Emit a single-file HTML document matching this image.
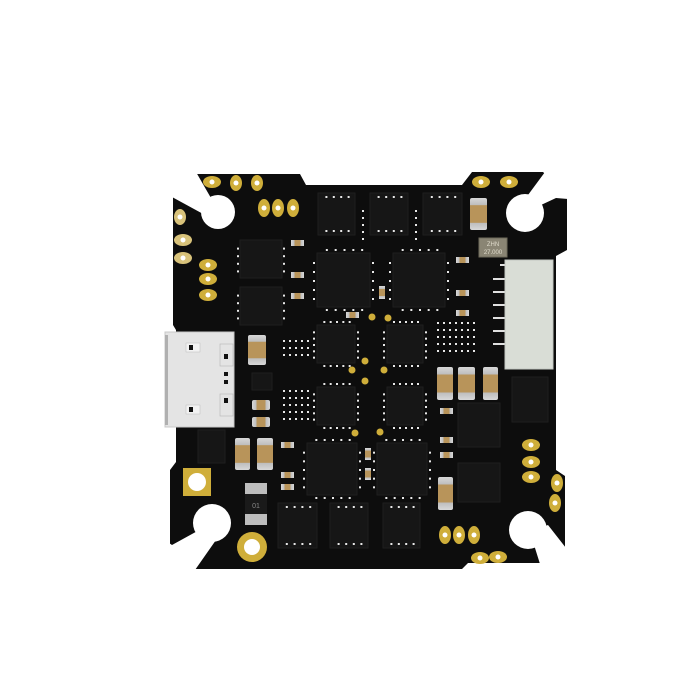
<!DOCTYPE html>
<html><head><meta charset="utf-8"><style>
html,body{margin:0;padding:0;background:#fff;width:700px;height:700px;overflow:hidden}
</style></head><body>
<svg id="s" width="700" height="700" viewBox="0 0 700 700" xmlns="http://www.w3.org/2000/svg" font-family="Liberation Sans, sans-serif">
<defs>
<linearGradient id="cap" x1="0" y1="0" x2="0" y2="1">
<stop offset="0" stop-color="#d8d8d8"/><stop offset="0.22" stop-color="#bdbdbd"/><stop offset="0.23" stop-color="#b8945a"/><stop offset="0.77" stop-color="#b8945a"/><stop offset="0.78" stop-color="#bdbdbd"/><stop offset="1" stop-color="#d8d8d8"/></linearGradient>
<linearGradient id="caph" x1="0" y1="0" x2="1" y2="0">
<stop offset="0" stop-color="#d8d8d8"/><stop offset="0.25" stop-color="#bdbdbd"/><stop offset="0.26" stop-color="#b8945a"/><stop offset="0.74" stop-color="#b8945a"/><stop offset="0.75" stop-color="#bdbdbd"/><stop offset="1" stop-color="#d8d8d8"/></linearGradient>
</defs>
<!-- board -->
<path fill="#0d0d0d" d="M193,174 L300,174 L306,185 L462,185 L472,172 L543,172 L567,195 L567,250 L556,256 L556,470 L565,476 L565,548 L542,563 L468,563 L462,569 L195,569 L170,545 L170,470 L176,462 L176,330 L173,325 L173,196 Z"/>
<!-- corner wedges + holes -->
<g fill="#fff">
<polygon points="150,160 196,172 215,205 205,215 172,197"/>
<circle cx="218" cy="212" r="17"/>
<polygon points="580,160 580,200 556,198 526,212 528,195 545,172"/>
<circle cx="525" cy="213" r="19"/>
<polygon points="580,560 580,580 545,580 530,532 548,525 566,548"/>
<circle cx="528" cy="530" r="19"/>
<polygon points="150,580 150,530 172,545 212,523 216,540 195,570"/>
<circle cx="212" cy="523" r="19"/>
</g>
<g id="chips" fill="#161616" stroke="#1e1e1e" stroke-width="1">
<rect x="318" y="193" width="37" height="42"/><rect x="370" y="193" width="38" height="42"/><rect x="423" y="193" width="39" height="42"/>
<rect x="240" y="240" width="42" height="38"/><rect x="240" y="287" width="42" height="38"/>
<rect x="317" y="253" width="53" height="54"/><rect x="393" y="253" width="52" height="54"/>
<rect x="307" y="443" width="50" height="52"/><rect x="377" y="443" width="50" height="52"/>
<rect x="317" y="325" width="38" height="38"/><rect x="387" y="325" width="36" height="38"/>
<rect x="317" y="387" width="38" height="38"/><rect x="387" y="387" width="36" height="38"/>
<rect x="512" y="377" width="36" height="45"/><rect x="458" y="403" width="42" height="44"/><rect x="458" y="463" width="42" height="39"/>
<rect x="278" y="503" width="39" height="45"/><rect x="330" y="503" width="38" height="45"/><rect x="383" y="503" width="37" height="45"/>
<rect x="198" y="430" width="27" height="33"/><rect x="252" y="373" width="20" height="17"/>
</g>
<g id="dots" fill="#e8e8e8"></g>
<!-- USB -->
<rect x="165" y="332" width="69" height="95" fill="#e4e4e4" stroke="#c8c8c8"/>
<rect x="165" y="335" width="3" height="90" fill="#b0b0b0"/>
<rect x="186" y="343" width="14" height="9" fill="#f2f2f2" stroke="#bbb" stroke-width=".5"/><rect x="189" y="345" width="4" height="5" fill="#111"/>
<rect x="186" y="405" width="14" height="9" fill="#f2f2f2" stroke="#bbb" stroke-width=".5"/><rect x="189" y="407" width="4" height="5" fill="#111"/>
<rect x="224" y="354" width="4" height="5" fill="#111"/><rect x="224" y="372" width="4" height="4" fill="#111"/><rect x="224" y="380" width="4" height="4" fill="#111"/><rect x="224" y="398" width="4" height="5" fill="#111"/>
<rect x="220" y="344" width="13" height="22" fill="none" stroke="#bbb" stroke-width=".7"/><rect x="220" y="394" width="13" height="22" fill="none" stroke="#bbb" stroke-width=".7"/>
<!-- side connector -->
<g fill="#e0e0e0"><rect x="493" y="278" width="14" height="2"/><rect x="493" y="291" width="14" height="2"/><rect x="493" y="304" width="14" height="2"/><rect x="493" y="317" width="14" height="2"/><rect x="493" y="330" width="14" height="2"/><rect x="493" y="343" width="14" height="2"/><rect x="500" y="264" width="7" height="2"/></g>
<rect x="505" y="260" width="48" height="109" fill="#d9ddd6" stroke="#c4c8c1"/>
<!-- crystal -->
<rect x="479" y="238" width="28" height="19" fill="#8a8574" stroke="#6f6a5c"/>
<text x="493" y="246" font-size="6" fill="#e0dccc" text-anchor="middle">ZHN</text>
<text x="493" y="254" font-size="6" fill="#e0dccc" text-anchor="middle">27.000</text>
<!-- caps vertical -->
<g fill="url(#cap)">
<rect x="470" y="198" width="17" height="32" rx="2"/><rect x="248" y="335" width="18" height="30" rx="2"/>
<rect x="437" y="367" width="16" height="33" rx="2"/><rect x="458" y="367" width="17" height="33" rx="2"/><rect x="483" y="367" width="15" height="33" rx="2"/>
<rect x="235" y="438" width="15" height="32" rx="2"/><rect x="257" y="438" width="16" height="32" rx="2"/><rect x="438" y="477" width="15" height="33" rx="2"/>
<rect x="379" y="286" width="6" height="13"/><rect x="365" y="448" width="6" height="12"/><rect x="365" y="468" width="6" height="12"/>
</g>
<g fill="url(#caph)">
<rect x="252" y="400" width="18" height="10" rx="2"/><rect x="252" y="417" width="18" height="10" rx="2"/>
<rect x="291" y="240" width="13" height="6"/><rect x="291" y="272" width="13" height="6"/><rect x="291" y="293" width="13" height="6"/>
<rect x="346" y="312" width="13" height="6"/><rect x="456" y="257" width="13" height="6"/><rect x="456" y="290" width="13" height="6"/><rect x="456" y="310" width="13" height="6"/>
<rect x="440" y="408" width="13" height="6"/><rect x="440" y="437" width="13" height="6"/><rect x="440" y="452" width="13" height="6"/>
<rect x="281" y="442" width="13" height="6"/><rect x="281" y="472" width="13" height="6"/><rect x="281" y="484" width="13" height="6"/>
</g>
<!-- grey resistor -->
<rect x="245" y="483" width="22" height="42" fill="#1a1a1a"/>
<rect x="245" y="483" width="22" height="11" fill="#bdbdbd"/><rect x="245" y="514" width="22" height="11" fill="#bdbdbd"/>
<text x="256" y="508" font-size="7" fill="#888" text-anchor="middle">01</text>
<!-- gold pads -->
<g fill="#cfae3a">
<ellipse cx="212" cy="182" rx="9" ry="6"/><ellipse cx="236" cy="183" rx="6" ry="8"/><ellipse cx="257" cy="183" rx="6" ry="8"/>
<ellipse cx="264" cy="208" rx="6" ry="9"/><ellipse cx="278" cy="208" rx="6" ry="9"/><ellipse cx="293" cy="208" rx="6" ry="9"/>
<ellipse cx="180" cy="217" rx="6" ry="8" fill="#d8c27a"/><ellipse cx="183" cy="240" rx="9" ry="6" fill="#d8c27a"/><ellipse cx="183" cy="258" rx="9" ry="6" fill="#d8c27a"/>
<ellipse cx="208" cy="265" rx="9" ry="6"/><ellipse cx="208" cy="279" rx="9" ry="6"/><ellipse cx="208" cy="295" rx="9" ry="6"/>
<ellipse cx="481" cy="182" rx="9" ry="6"/><ellipse cx="509" cy="182" rx="9" ry="6"/>
<ellipse cx="531" cy="445" rx="9" ry="6"/><ellipse cx="531" cy="462" rx="9" ry="6"/><ellipse cx="531" cy="477" rx="9" ry="6"/>
<ellipse cx="557" cy="483" rx="6" ry="9"/><ellipse cx="555" cy="503" rx="6" ry="9"/>
<ellipse cx="445" cy="535" rx="6" ry="9"/><ellipse cx="459" cy="535" rx="6" ry="9"/><ellipse cx="474" cy="535" rx="6" ry="9"/>
<ellipse cx="480" cy="558" rx="9" ry="6"/><ellipse cx="498" cy="557" rx="9" ry="6"/>
<rect x="183" y="468" width="28" height="28"/><circle cx="252" cy="547" r="15"/>
<circle cx="372" cy="317" r="3.5"/><circle cx="388" cy="318" r="3.5"/><circle cx="365" cy="361" r="3.5"/><circle cx="352" cy="370" r="3.5"/><circle cx="384" cy="370" r="3.5"/><circle cx="365" cy="381" r="3.5"/><circle cx="355" cy="433" r="3.5"/><circle cx="380" cy="432" r="3.5"/>
</g>
<g fill="#fff">
<circle cx="212" cy="182" r="2.5"/><circle cx="236" cy="183" r="2.5"/><circle cx="257" cy="183" r="2.5"/><circle cx="264" cy="208" r="2.5"/><circle cx="278" cy="208" r="2.5"/><circle cx="293" cy="208" r="2.5"/>
<circle cx="180" cy="217" r="2.5"/><circle cx="183" cy="240" r="2.5"/><circle cx="183" cy="258" r="2.5"/><circle cx="208" cy="265" r="2.5"/><circle cx="208" cy="279" r="2.5"/><circle cx="208" cy="295" r="2.5"/>
<circle cx="481" cy="182" r="2.5"/><circle cx="509" cy="182" r="2.5"/><circle cx="531" cy="445" r="2.5"/><circle cx="531" cy="462" r="2.5"/><circle cx="531" cy="477" r="2.5"/><circle cx="557" cy="483" r="2.5"/><circle cx="555" cy="503" r="2.5"/>
<circle cx="445" cy="535" r="2.5"/><circle cx="459" cy="535" r="2.5"/><circle cx="474" cy="535" r="2.5"/><circle cx="480" cy="558" r="2.5"/><circle cx="498" cy="557" r="2.5"/>
<circle cx="197" cy="482" r="9"/><circle cx="252" cy="547" r="8"/>
</g>
</svg>
<script>
var g=document.getElementById('dots'),ns='http://www.w3.org/2000/svg';
function d(x,y){var r=document.createElementNS(ns,'rect');r.setAttribute('x',x);r.setAttribute('y',y);r.setAttribute('width',2);r.setAttribute('height',2);g.appendChild(r);}
var c=[[317,253,53,54],[393,253,52,54],[307,443,50,52],[377,443,50,52],[317,325,38,38],[387,325,36,38],[317,387,38,38],[387,387,36,38]];
c.forEach(function(b){for(var i=0;i<5;i++){var t=(i+1)/6;d(b[0]+b[2]*t,b[1]-4);d(b[0]+b[2]*t,b[1]+b[3]+2);d(b[0]-4,b[1]+b[3]*t);d(b[0]+b[2]+2,b[1]+b[3]*t);}});
[[240,240,42,38],[240,287,42,38]].forEach(function(b){for(var i=0;i<4;i++){var t=(i+1)/5;d(b[0]-3,b[1]+b[3]*t);d(b[0]+b[2]+1,b[1]+b[3]*t);}});
[[318,193,37,42],[370,193,38,42],[423,193,39,42],[278,503,39,45],[330,503,38,45],[383,503,37,45]].forEach(function(b){for(var i=0;i<4;i++){var t=(i+1)/5;d(b[0]+b[2]*t,b[1]+3);d(b[0]+b[2]*t,b[1]+b[3]-5);}});
for(var x=437;x<475;x+=6)for(var y=322;y<355;y+=7)d(x,y);
for(var x=283;x<310;x+=6)for(var y=340;y<358;y+=7)d(x,y);
for(var x=283;x<310;x+=6)for(var y=390;y<425;y+=7)d(x,y);
for(var y=210;y<240;y+=7){d(362,y);d(415,y);}
</script>
</body></html>
